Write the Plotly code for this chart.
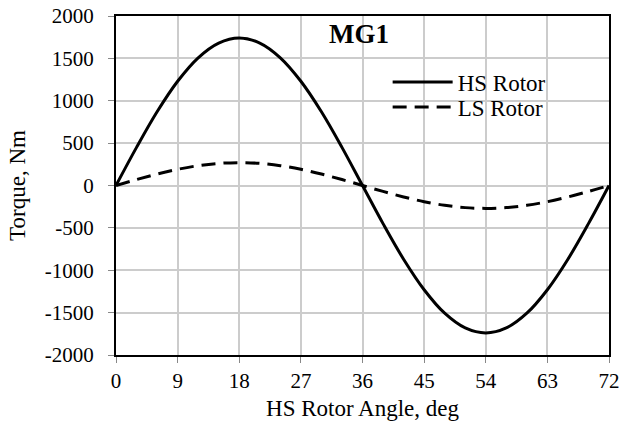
import plotly.graph_objects as go

angle = [0, 3, 6, 9, 12, 15, 18, 21, 24, 27, 30, 33, 36, 39, 42, 45, 48, 51, 54, 57, 60, 63, 66, 69, 72]
hs_torque = [0, 450, 870, 1230, 1507, 1681, 1740, 1681, 1507, 1230, 870, 450, 0,
             -450, -870, -1230, -1507, -1681, -1740, -1681, -1507, -1230, -870, -450, 0]
ls_torque = [0, 70, 135, 191, 234, 261, 270, 261, 234, 191, 135, 70, 0,
             -70, -135, -191, -234, -261, -270, -261, -234, -191, -135, -70, 0]
x_ticks = [0, 9, 18, 27, 36, 45, 54, 63, 72]
y_ticks = [-2000, -1500, -1000, -500, 0, 500, 1000, 1500, 2000]
y_tick_text = ["-2000", "-1500", "-1000", "-500", "0", "500", "1000", "1500", "2000"]

font = "Liberation Serif, Times New Roman, serif"

fig = go.Figure()
fig.add_trace(go.Scatter(x=angle, y=hs_torque, mode="lines", name="HS Rotor", legend="legend",
                         line=dict(color="black", width=3, shape="spline")))
fig.add_trace(go.Scatter(x=angle, y=ls_torque, mode="lines", name="LS Rotor", legend="legend2",
                         line=dict(color="black", width=3, dash="14px,8px", shape="spline")))

leg_common = dict(xanchor="left", yanchor="middle", bgcolor="rgba(0,0,0,0)",
                  font=dict(size=23, family=font), itemwidth=60)

fig.update_layout(
    width=622, height=423,
    margin=dict(l=116, r=13, t=16, b=68),
    paper_bgcolor="white", plot_bgcolor="white",
    font=dict(family=font, size=21, color="black"),
    showlegend=True,
    legend=dict(x=0.551, y=(355 - 82) / 339, **leg_common),
    legend2=dict(x=0.551, y=(355 - 107) / 339, **leg_common),
    annotations=[dict(text="<b>MG1</b>", x=0.493, y=0.947, xref="paper", yref="paper",
                      xanchor="center", yanchor="middle", showarrow=False,
                      font=dict(size=27, family=font))],
)
fig.update_xaxes(range=[0, 72], tickvals=x_ticks, showgrid=True, gridcolor="#cccccc", gridwidth=1.5,
                 showline=True, linecolor="black", linewidth=2, mirror=True, automargin=False,
                 ticks="outside", ticklen=6, tickcolor="#888888",
                 title=dict(text="HS Rotor Angle, deg", standoff=8, font=dict(size=23)), zeroline=False)
fig.update_yaxes(range=[-2000, 2000], tickvals=y_ticks, ticktext=y_tick_text,
                 showgrid=True, gridcolor="#cccccc", gridwidth=1.5,
                 showline=True, linecolor="black", linewidth=2, mirror=True, automargin=False,
                 ticks="outside", ticklen=6, tickcolor="#888888", ticklabelstandoff=10,
                 title=dict(text="Torque, Nm", standoff=13, font=dict(size=23)), zeroline=False)

fig.write_html("out.html")
